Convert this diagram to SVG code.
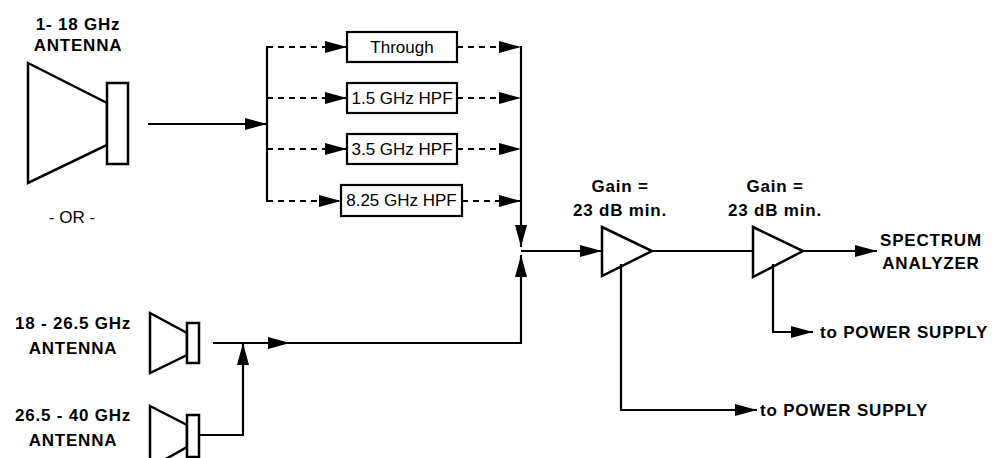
<svg xmlns="http://www.w3.org/2000/svg" width="1002" height="458" viewBox="0 0 1002 458">
<style>
.ln{fill:none;stroke:#000;stroke-width:2.2}
.dash{fill:none;stroke:#000;stroke-width:2.2;stroke-dasharray:6 5}
.sh{fill:#fff;stroke:#000;stroke-width:2.5;stroke-linejoin:miter}
.bx{fill:#fff;stroke:#000;stroke-width:2.2}
.b{font-family:"Liberation Sans",Arial,sans-serif;font-weight:bold;font-size:17px;letter-spacing:0.8px;text-anchor:middle}
.bl{font-family:"Liberation Sans",Arial,sans-serif;font-weight:bold;font-size:17px;letter-spacing:0.8px}
.n{font-family:"Liberation Sans",Arial,sans-serif;font-size:17px;text-anchor:middle}
</style>
<defs>
<marker id="ar" viewBox="0 0 22 12" refX="22" refY="6" markerWidth="22" markerHeight="12" markerUnits="userSpaceOnUse" orient="auto">
<path d="M0,0 L22,6 L0,12 Z" fill="#000"/>
</marker>
</defs>

<g id="antenna1">
<polygon class="sh" points="28,63 107,103 107,145 28,183"/>
<rect class="sh" x="107" y="83" width="21" height="81"/>
<text class="b" x="78" y="30">1- 18 GHz</text>
<text class="b" x="78" y="51">ANTENNA</text>
</g>
<g id="or-label"><text class="n" x="72" y="223">- OR -</text></g>

<g id="antenna2">
<polygon class="sh" points="150,313 187,333 187,355 150,373"/>
<rect class="sh" x="187" y="323" width="12" height="40"/>
<text class="b" x="73" y="329">18 - 26.5 GHz</text>
<text class="b" x="73" y="354">ANTENNA</text>
</g>
<g id="antenna3">
<polygon class="sh" points="150,406 187,425 187,447 150,468"/>
<rect class="sh" x="187" y="415" width="12" height="42"/>
<text class="b" x="73" y="421">26.5 - 40 GHz</text>
<text class="b" x="73" y="446">ANTENNA</text>
</g>

<g id="through"><rect class="bx" x="347" y="32" width="110" height="30"/><text class="n" x="402" y="53">Through</text></g>
<g id="hpf15"><rect class="bx" x="347" y="83" width="110" height="30"/><text class="n" x="402" y="104">1.5 GHz HPF</text></g>
<g id="hpf35"><rect class="bx" x="347" y="134" width="110" height="30"/><text class="n" x="402" y="155">3.5 GHz HPF</text></g>
<g id="hpf825"><rect class="bx" x="341" y="185" width="121" height="31"/><text class="n" x="401.5" y="206">8.25 GHz HPF</text></g>

<g id="amp1">
<polygon class="sh" points="602,227 652,251 602,276"/>
<text class="b" x="620" y="192">Gain =</text>
<text class="b" x="620" y="216">23 dB min.</text>
</g>
<g id="amp2">
<polygon class="sh" points="753,227 803,251 753,277"/>
<text class="b" x="775" y="192">Gain =</text>
<text class="b" x="775" y="216">23 dB min.</text>
</g>
<g id="spectrum-analyzer">
<text class="b" x="931" y="246">SPECTRUM</text>
<text class="b" x="931" y="269">ANALYZER</text>
</g>
<g id="ps1"><text class="bl" x="760" y="416">to POWER SUPPLY</text></g>
<g id="ps2"><text class="bl" x="820" y="338">to POWER SUPPLY</text></g>

<g id="connectors">
<line class="ln" x1="148" y1="124" x2="267" y2="124" marker-end="url(#ar)"/>
<line class="ln" x1="267" y1="46" x2="267" y2="202"/>
<line class="dash" x1="267" y1="47" x2="347" y2="47" marker-end="url(#ar)"/>
<line class="dash" x1="267" y1="98" x2="347" y2="98" marker-end="url(#ar)"/>
<line class="dash" x1="267" y1="149" x2="347" y2="149" marker-end="url(#ar)"/>
<line class="dash" x1="267" y1="201" x2="341" y2="201" marker-end="url(#ar)"/>
<line class="dash" x1="457" y1="47" x2="521" y2="47" marker-end="url(#ar)"/>
<line class="dash" x1="457" y1="98" x2="521" y2="98" marker-end="url(#ar)"/>
<line class="dash" x1="457" y1="149" x2="521" y2="149" marker-end="url(#ar)"/>
<line class="dash" x1="462" y1="201" x2="521" y2="201" marker-end="url(#ar)"/>
<line class="ln" x1="521" y1="46" x2="521" y2="247" marker-end="url(#ar)"/>
<line class="ln" x1="213" y1="343" x2="290" y2="343" marker-end="url(#ar)"/>
<polyline class="ln" points="288,343 521,343 521,255" marker-end="url(#ar)"/>
<polyline class="ln" points="199,435 243,435 243,343" marker-end="url(#ar)"/>
<line class="ln" x1="521" y1="251" x2="602" y2="251" marker-end="url(#ar)"/>
<line class="ln" x1="652" y1="251" x2="753" y2="251"/>
<line class="ln" x1="803" y1="251" x2="877" y2="251" marker-end="url(#ar)"/>
<polyline class="ln" points="621,264 621,410 757,410" marker-end="url(#ar)"/>
<polyline class="ln" points="773,264 773,332 813,332" marker-end="url(#ar)"/>
</g>
</svg>
